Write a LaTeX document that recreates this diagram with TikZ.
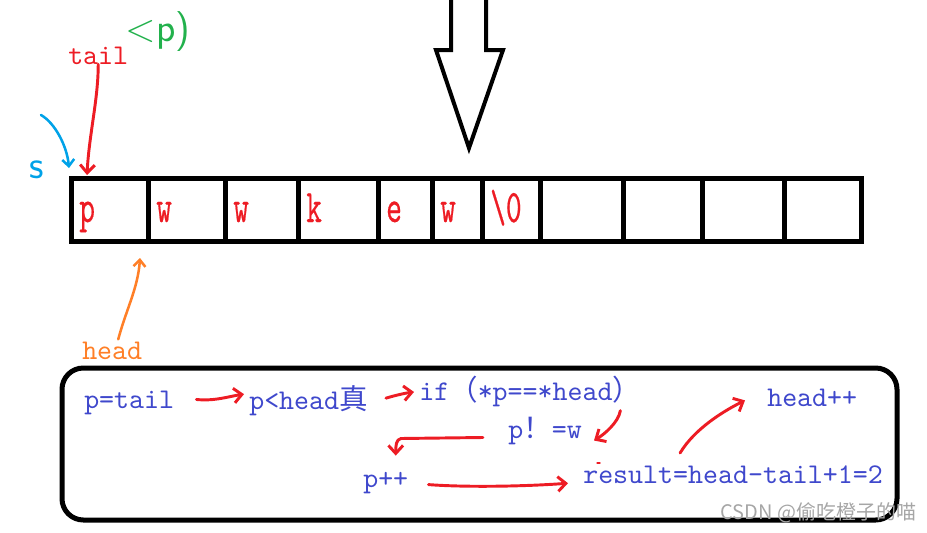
\documentclass[tikz,border=0pt]{standalone}
\usepackage{fontspec}
\setmainfont{Liberation Serif}
\newfontfamily\codefont{lmmono10-regular.otf}
\newfontfamily\cellfont{lmmono10-regular.otf}[FakeStretch=0.64,FakeBold=0.4]
\newfontfamily\cjkfont{Noto Sans CJK SC}
\usetikzlibrary{arrows.meta,positioning,calc}
\definecolor{paintred}{RGB}{237,28,36}
\definecolor{paintblue}{RGB}{63,72,204}
\definecolor{paintgreen}{RGB}{34,177,76}
\definecolor{paintcyan}{RGB}{0,162,232}
\definecolor{paintorange}{RGB}{255,127,39}

\begin{document}
\begin{tikzpicture}[
  x=0.75pt, y=-0.75pt,
  frame/.style={draw=black, line width=3.75pt},
  cellchar/.style={anchor=base west, inner sep=0pt, text=paintred,
    font=\cellfont\fontsize{35pt}{36pt}\selectfont},
  code/.style={anchor=base west, inner sep=0pt, text=paintblue,
    font=\codefont\fontsize{21.4pt}{24pt}\selectfont},
  tagtext/.style={code, text=paintred},
  hand/.style={inner sep=0pt, font=\sffamily\fontsize{30pt}{32pt}\selectfont},
  pen/.style={draw=paintred, line width=2.2pt, line cap=round, line join=round},
  penarrow/.style={pen, -{Straight Barb[length=6pt,width=11pt]}},
  bluepen/.style={pen, draw=paintcyan, line width=1.9pt},
  orangepen/.style={pen, draw=paintorange, line width=1.9pt}
]
\useasboundingbox (0,0) rectangle (927,532);

% the string array
\draw[frame] (71,178) rectangle (861,241);
\foreach \xpos in {148,225,298,378,432,482,540,623,702,784}
  \draw[frame] (\xpos,178) -- (\xpos,241);
\foreach \left/\ch [count=\i] in {71/p,148/w,225/w,298/k,378/e,432/w,482/\textbackslash 0}
  \node[cellchar] (ch\i) at (\left+8,222) {\ch};

% hollow arrow on top
\draw[draw=black, line width=3pt, line join=miter]
  (451,-4) -- (451,50) -- (436,50) -- (469,148) -- (503,50) -- (486,50) -- (486,-4);

% pointers
\node[hand, text=paintgreen] (pname) at (158,32) {<p)};
\node[tagtext] (tail) at (68,64) {tail};
\node[tagtext, text=paintorange] (headlbl) at (82,359) {head};
\node[hand, text=paintcyan] (s) at (37,170) {s};

\coordinate (tail-tip) at (87,175);
\coordinate (s-from) at (41,115);
\coordinate (s-tip) at (69,168);
\coordinate (head-tip) at (140,258);

\draw[penarrow] (tail.south) .. controls +(0,35) and +(2,-40) .. (tail-tip);
\draw[bluepen, -{Straight Barb[length=5pt,width=9pt]}]
  (s-from) .. controls +(14,8) and +(-2,-22) .. (s-tip);
\draw[orangepen, -{Straight Barb[length=5pt,width=9pt]}]
  ($(headlbl.north)+(6,-2)$) .. controls +(8,-30) and +(-2,30) .. (head-tip);

% the loop
\draw[frame, rounded corners=16pt] (62,368) rectangle (897,520);

\node[code] (init) at (84,408) {p=tail};
\node[code] (cmp) at (249,409) {p<head{\cjkfont 真}};
\node[code] (test) at (419,400) {if{\cjkfont （}*p==*head{\cjkfont ）}};
\node[code] (neq) at (508,438) {p{\cjkfont ！}=w};
\node[code] (inc) at (363,487) {p++};
\node[code] (res) at (583,483) {result=head-tail+1=2};
\node[code] (hinc) at (767,406) {head++};

\draw[penarrow] ($(init.east)+(22,-3)$) .. controls +(18,2) and +(-14,2) .. ($(cmp.west)+(-5,-6)$);
\draw[penarrow] ($(cmp.east)+(18,-2)$) .. controls +(10,-3) and +(-8,1) .. ($(test.west)+(-5,1)$);
\draw[penarrow] ($(test.south east)+(-21,4)$) .. controls +(-2,12) and +(10,-6) .. ($(neq.east)+(12,10)$);
\draw[penarrow] ($(neq.west)+(-25,7)$) -- ++(-82,1) .. controls +(-5,1) and +(0,-10) .. ($(inc.north)+(10,-16)$);
\draw[penarrow] ($(inc.east)+(20,2)$) .. controls +(40,3) and +(-40,3) .. ($(res.west)+(-15,9)$);
\draw[penarrow] ($(res.north)+(-53,-12)$) .. controls +(15,-25) and +(-20,10) .. ($(hinc.west)+(-22,3)$);
\draw[pen, line width=1pt] ($(res.north west)+(14,-2)$) -- +(3,0);

\node[anchor=base west, inner sep=0pt, text=black!35,
  font=\cjkfont\fontsize{15pt}{18pt}\selectfont] (mark) at (720,519) {CSDN @偷吃橙子的喵};
\end{tikzpicture}
\end{document}
